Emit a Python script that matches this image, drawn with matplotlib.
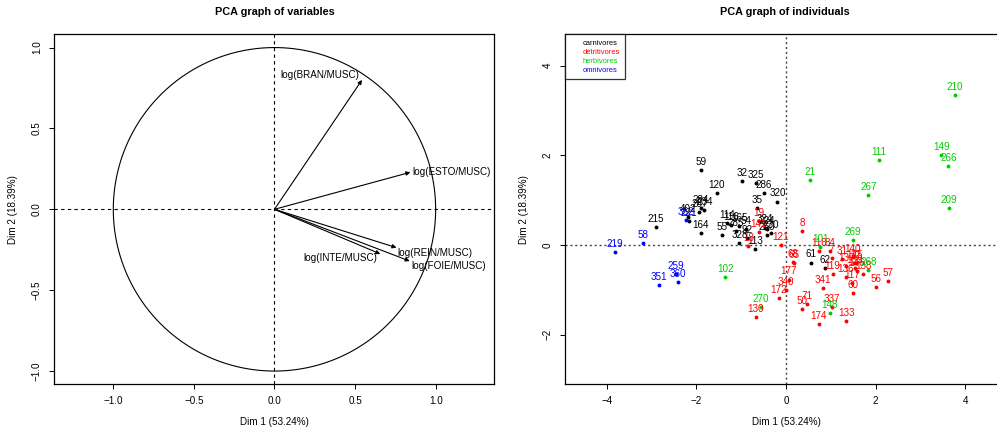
import matplotlib
matplotlib.use("Agg")
import numpy as np
import matplotlib.pyplot as plt
from matplotlib.lines import Line2D

plt.rcParams['font.family'] = ['Liberation Sans', 'DejaVu Sans']

# variables (correlation circle)
var_names = ["log(BRAN/MUSC)", "log(ESTO/MUSC)", "log(REIN/MUSC)", "log(FOIE/MUSC)", "log(INTE/MUSC)"]
var_dim1 = [0.543, 0.843, 0.757, 0.839, 0.657]
var_dim2 = [0.800, 0.229, -0.237, -0.320, -0.276]

# individuals
groups = ["carnivores", "détritivores", "herbivores", "omnivores"]
group_colors = ["black", "red", "#00CD00", "blue"]

carn_lab = ["59", "32", "325", "286", "120", "320", "35", "284", "234", "287", "402", "221", "215",
            "164", "55", "114", "116", "165", "285", "54", "92", "328", "113", "324", "224", "230",
            "250", "61", "62"]
carn_x = [-1.90, -0.98, -0.68, -0.50, -1.54, -0.19, -0.65, -1.90, -1.82, -1.93, -2.19, -2.17, -2.90,
          -1.90, -1.43, -1.32, -1.23, -1.04, -1.12, -0.89, -0.86, -1.04, -0.69, -0.47, -0.43, -0.34,
          -0.43, 0.55, 0.87]
carn_y = [1.67, 1.43, 1.38, 1.17, 1.16, 0.97, 0.82, 0.82, 0.77, 0.73, 0.62, 0.53, 0.40,
          0.27, 0.23, 0.48, 0.45, 0.42, 0.32, 0.36, 0.16, 0.04, -0.09, 0.39, 0.36, 0.26,
          0.22, -0.39, -0.51]

detr_lab = ["19", "141", "18", "121", "8", "118", "84", "7", "68", "65", "177", "340", "172", "130",
            "71", "50", "174", "133", "337", "341", "119", "60", "56", "57", "117", "136", "138",
            "31", "140", "137", "22", "139", "145", "146"]
detr_x = [-0.60, -0.61, -0.84, -0.12, 0.36, 0.74, 0.98, 1.02, 0.16, 0.17, 0.06, 0.00, -0.16, -0.67,
          0.46, 0.36, 0.73, 1.34, 1.03, 0.83, 1.04, 1.49, 2.00, 2.28, 1.48, 1.33, 1.72,
          1.26, 1.49, 1.34, 1.56, 1.53, 1.52, 1.58]
detr_y = [0.54, 0.30, -0.02, 0.00, 0.31, -0.13, -0.13, -0.28, -0.37, -0.41, -0.77, -1.00, -1.19, -1.61,
          -1.32, -1.42, -1.76, -1.69, -1.38, -0.95, -0.65, -1.07, -0.94, -0.80, -0.84, -0.72, -0.65,
          -0.32, -0.27, -0.46, -0.41, -0.52, -0.40, -0.58]

herb_lab = ["210", "111", "149", "266", "21", "267", "209", "269", "101", "268", "102", "270", "148"]
herb_x = [3.76, 2.08, 3.46, 3.62, 0.54, 1.84, 3.64, 1.49, 0.76, 1.84, -1.36, -0.56, 0.98]
herb_y = [3.35, 1.90, 2.01, 1.77, 1.46, 1.12, 0.82, 0.11, -0.05, -0.56, -0.72, -1.38, -1.51]

omni_lab = ["219", "58", "259", "360", "351", "352"]
omni_x = [-3.81, -3.18, -2.46, -2.42, -2.83, -2.23]
omni_y = [-0.15, 0.04, -0.65, -0.82, -0.90, 0.55]

W, H = 997, 433
fig = plt.figure(figsize=(W / 100, H / 100), dpi=100)
fs = 7.1

def style_axes(ax):
	ax.tick_params(direction='out', length=3.6, width=0.7, pad=5.3, labelsize=fs)
	for s in ax.spines.values():
		s.set_linewidth(0.9)
	for lab in ax.get_yticklabels():
		lab.set_rotation(90)
		lab.set_va('center')

# ---- left: graph of variables
ax1 = fig.add_axes([54.3 / W, (H - 384) / H, (494 - 54.3) / W, 349.7 / H])
t = np.linspace(0, 2 * np.pi, 400)
ax1.plot(np.cos(t), np.sin(t), color='black', lw=0.8)
ax1.axhline(0, color='black', ls=(0, (3, 3)), lw=0.8)
ax1.axvline(0, color='black', ls=(0, (3, 3)), lw=0.8)
for i in range(len(var_names)):
	ax1.annotate("", xy=(var_dim1[i], var_dim2[i]), xytext=(0, 0),
		arrowprops=dict(arrowstyle='-|>', color='black', lw=0.8, mutation_scale=6, shrinkA=0, shrinkB=0))
# label placement (to the side of the arrow tips)
lab_pos = [(-0.014, 0.033, 'right'), (0.011, 0.0, 'left'), (0.008, -0.032, 'left'),
           (0.011, -0.029, 'left'), (-0.02, -0.028, 'right')]
for i in range(len(var_names)):
	dx, dy, ha = lab_pos[i]
	ax1.text(var_dim1[i] + dx, var_dim2[i] + dy, var_names[i], ha=ha, va='center', fontsize=fs)
ax1.set_xlim(-1.366, 1.362)
ax1.set_ylim(-1.08, 1.082)
ax1.set_xticks([-1.0, -0.5, 0.0, 0.5, 1.0])
ax1.set_yticks([-1.0, -0.5, 0.0, 0.5, 1.0])
ax1.set_xlabel("Dim 1 (53.24%)", fontsize=fs)
ax1.xaxis.set_label_coords(0.5, -0.095)
ax1.set_ylabel("Dim 2 (18.39%)", fontsize=fs, labelpad=10)
style_axes(ax1)
fig.text(274.5 / W, 1 - 12 / H, "PCA graph of variables", ha='center', va='center',
	fontsize=7.8, fontweight='bold')

# ---- right: graph of individuals
x0 = 786.0
unit = 44.83
xmax = 5.6
ax2 = fig.add_axes([565 / W, (H - 384) / H, (x0 + xmax * unit - 565) / W, 349.7 / H])
ax2.axhline(0, color='#444444', ls=(0, (1.5, 2)), lw=1.0)
ax2.axvline(0, color='#444444', ls=(0, (1.5, 2)), lw=1.0)
all_lab = [carn_lab, detr_lab, herb_lab, omni_lab]
all_x = [carn_x, detr_x, herb_x, omni_x]
all_y = [carn_y, detr_y, herb_y, omni_y]
for g in range(len(groups)):
	ax2.plot(all_x[g], all_y[g], 'o', color=group_colors[g], ms=2.8, mec='none')
	for i in range(len(all_lab[g])):
		ax2.annotate(all_lab[g][i], (all_x[g][i], all_y[g][i]), xytext=(0, 2.2),
			textcoords='offset points', ha='center', va='bottom', fontsize=fs,
			color=group_colors[g])
ax2.set_xlim(-4.93, xmax)
ax2.set_ylim(-3.10, 4.70)
ax2.set_xticks([-4, -2, 0, 2, 4])
ax2.set_yticks([-2, 0, 2, 4])
ax2.set_xlabel("Dim 1 (53.24%)", fontsize=fs)
ax2.xaxis.set_label_coords((x0 - 565) / (x0 + xmax * unit - 565), -0.095)
ax2.set_ylabel("Dim 2 (18.39%)", fontsize=fs, labelpad=10)
style_axes(ax2)
handles = [Line2D([], [], linestyle='none') for g in groups]
leg = ax2.legend(handles, groups, loc='upper left', bbox_to_anchor=(0, 1), borderaxespad=0,
	fontsize=5.4, labelcolor=group_colors, frameon=True, fancybox=False, handlelength=1.2,
	handletextpad=0.4, borderpad=0.7, labelspacing=0.25)
leg.get_frame().set_edgecolor('black')
leg.get_frame().set_linewidth(0.9)
fig.text(785 / W, 1 - 12 / H, "PCA graph of individuals", ha='center', va='center',
	fontsize=7.8, fontweight='bold')

fig.savefig("out.png", dpi=100)
